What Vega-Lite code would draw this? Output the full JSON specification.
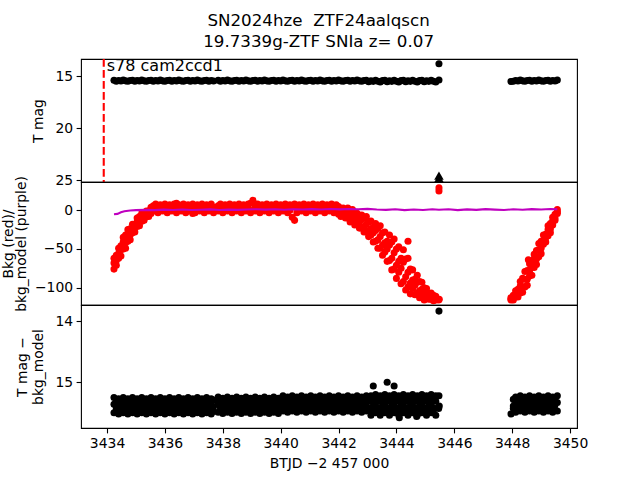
{
"$schema": "https://vega.github.io/schema/vega-lite/v6.json",
"padding": {"left": 0, "top": 13, "right": 5, "bottom": 5},
"background": "white",
"title": {"text": ["SN2024hze\u00a0 ZTF24aalqscn", "19.7339g-ZTF SNIa z= 0.07"], "font": "DejaVu Sans", "fontSize": 16.7, "fontWeight": "normal", "color": "#000", "anchor": "middle", "offset": 6, "lineHeight": 21, "dx": 24},
"config": {
 "view": {"stroke": "#000", "strokeWidth": 1.1},
 "axis": {"domain": false, "grid": false, "tickColor": "#000", "tickSize": 4.9, "tickWidth": 1.1, "labelColor": "#000", "labelFont": "DejaVu Sans", "labelFontSize": 13.9, "labelPadding": 3.5, "labelFlush": false, "labelOverlap": false, "titleColor": "#000", "titleFont": "DejaVu Sans", "titleFontSize": 13.9, "titleFontWeight": "normal", "titlePadding": 9, "titleLineHeight": 16.5, "minExtent": 0}
},
"datasets": {
 "lc": [
  {"t":3434.24,"m":15.38,"b":-62,"g":-68,"c":-76,"d":15.25,"e":15.36,"f":15.50},
  {"t":3434.32,"m":15.47,"b":-58,"g":-65,"c":-71,"d":15.31,"e":15.42,"f":15.46},
  {"t":3434.40,"m":15.41,"b":-49,"g":-56,"c":-62,"d":15.27,"e":15.34,"f":15.52},
  {"t":3434.48,"m":15.45,"b":-46,"g":-51,"c":-59,"d":15.29,"e":15.40,"f":15.48},
  {"t":3434.56,"m":15.37,"b":-35,"g":-41,"c":-50,"d":15.25,"e":15.36,"f":15.50},
  {"t":3434.64,"m":15.44,"b":-32,"g":-42,"c":-49,"d":15.31,"e":15.42,"f":15.46},
  {"t":3434.72,"m":15.48,"b":-25,"g":-32,"c":-40,"d":15.27,"e":15.34,"f":15.52},
  {"t":3434.80,"m":15.40,"b":-24,"g":-32,"c":-38,"d":15.29,"e":15.40,"f":15.48},
  {"t":3434.88,"m":15.38,"b":-18,"g":-24,"c":-29,"d":15.25,"e":15.36,"f":15.50},
  {"t":3434.96,"m":15.47,"b":-18,"g":-22,"c":-28,"d":15.31,"e":15.42,"f":15.46},
  {"t":3435.04,"m":15.41,"b":-10,"g":-15,"c":-21,"d":15.27,"e":15.34,"f":15.52},
  {"t":3435.12,"m":15.45,"b":-8,"g":-15,"c":-20,"d":15.29,"e":15.40,"f":15.48},
  {"t":3435.20,"m":15.37,"b":-4,"g":-9,"c":-14,"d":15.25,"e":15.36,"f":15.50},
  {"t":3435.28,"m":15.44,"b":-3,"g":-9,"c":-13,"d":15.31,"e":15.42,"f":15.46},
  {"t":3435.36,"m":15.48,"b":-1,"g":-4,"c":-8,"d":15.27,"e":15.34,"f":15.52},
  {"t":3435.44,"m":15.40,"b":-1,"g":-4,"c":-8,"d":15.29,"e":15.40,"f":15.48},
  {"t":3435.52,"m":15.38,"b":4,"g":1,"c":-4,"d":15.25,"e":15.36,"f":15.50},
  {"t":3435.60,"m":15.47,"b":6,"c":-1,"d":15.31,"e":15.42,"f":15.46},
  {"t":3435.68,"m":15.41,"b":8,"c":1,"d":15.27,"e":15.34,"f":15.52},
  {"t":3435.76,"m":15.45,"b":4,"c":-3,"d":15.29,"e":15.40,"f":15.48},
  {"t":3435.84,"m":15.37,"b":7,"c":0,"d":15.25,"e":15.36,"f":15.50},
  {"t":3435.92,"m":15.44,"b":6,"c":-1,"d":15.31,"e":15.42,"f":15.46},
  {"t":3436.00,"m":15.48,"b":8,"c":1,"d":15.27,"e":15.34,"f":15.52},
  {"t":3436.08,"m":15.40,"b":4,"c":-3,"d":15.29,"e":15.40,"f":15.48},
  {"t":3436.16,"m":15.38,"b":7,"c":0,"d":15.25,"e":15.36,"f":15.50},
  {"t":3436.24,"m":15.47,"b":6,"c":-1,"d":15.31,"e":15.42,"f":15.46},
  {"t":3436.32,"m":15.41,"b":8,"c":1,"d":15.27,"e":15.34,"f":15.52},
  {"t":3436.40,"m":15.45,"b":9,"c":-3,"d":15.29,"e":15.40,"f":15.48},
  {"t":3436.48,"m":15.37,"b":7,"c":0,"d":15.25,"e":15.36,"f":15.50},
  {"t":3436.56,"m":15.44,"b":6,"c":-1,"d":15.31,"e":15.42,"f":15.46},
  {"t":3436.64,"m":15.48,"b":8,"c":1,"d":15.27,"e":15.34,"f":15.52},
  {"t":3436.72,"m":15.40,"b":4,"c":-3,"d":15.29,"e":15.40,"f":15.48},
  {"t":3436.80,"m":15.38,"b":7,"c":0,"d":15.25,"e":15.36,"f":15.50},
  {"t":3436.88,"m":15.47,"b":6,"c":-1,"d":15.31,"e":15.42,"f":15.46},
  {"t":3436.96,"m":15.41,"b":8,"c":-4,"d":15.27,"e":15.34,"f":15.52},
  {"t":3437.04,"m":15.45,"b":4,"c":-3,"d":15.29,"e":15.40,"f":15.48},
  {"t":3437.12,"m":15.37,"b":7,"c":0,"d":15.25,"e":15.36,"f":15.50},
  {"t":3437.20,"m":15.44,"b":6,"c":-1,"d":15.31,"e":15.42,"f":15.46},
  {"t":3437.28,"m":15.48,"b":8,"c":1,"d":15.27,"e":15.34,"f":15.52},
  {"t":3437.36,"m":15.40,"b":4,"c":-3,"d":15.29,"e":15.40,"f":15.48},
  {"t":3437.44,"m":15.38,"b":7,"c":0,"d":15.25,"e":15.36,"f":15.50},
  {"t":3437.52,"m":15.47,"b":6,"c":-1,"d":15.31,"e":15.42,"f":15.46},
  {"t":3437.60,"m":15.41,"b":8,"c":1,"d":15.27,"e":15.34,"f":15.52},
  {"t":3437.68,"m":15.45,"b":4,"c":-3,"d":15.29,"e":15.40,"f":15.48},
  {"t":3437.84,"m":15.38,"b":6,"c":-1,"d":15.24,"e":15.35,"f":15.49},
  {"t":3437.92,"m":15.47,"b":8,"c":1,"d":15.30,"e":15.41,"f":15.45},
  {"t":3438.00,"m":15.41,"b":4,"c":-3,"d":15.26,"e":15.33,"f":15.51},
  {"t":3438.08,"m":15.45,"b":7,"c":0,"d":15.28,"e":15.39,"f":15.47},
  {"t":3438.16,"m":15.37,"b":6,"c":-1,"d":15.24,"e":15.35,"f":15.49},
  {"t":3438.24,"m":15.44,"b":8,"c":1,"d":15.30,"e":15.41,"f":15.45},
  {"t":3438.32,"m":15.48,"b":4,"c":-3,"d":15.26,"e":15.33,"f":15.51},
  {"t":3438.40,"m":15.40,"b":7,"c":0,"d":15.28,"e":15.39,"f":15.47},
  {"t":3438.48,"m":15.38,"b":6,"c":-1,"d":15.24,"e":15.35,"f":15.49},
  {"t":3438.56,"m":15.47,"b":8,"c":1,"d":15.30,"e":15.41,"f":15.45},
  {"t":3438.64,"m":15.41,"b":4,"c":-3,"d":15.26,"e":15.33,"f":15.51},
  {"t":3438.72,"m":15.45,"b":7,"c":0,"d":15.28,"e":15.39,"f":15.47},
  {"t":3438.80,"m":15.37,"b":6,"c":-1,"d":15.24,"e":15.35,"f":15.49},
  {"t":3438.88,"m":15.44,"b":8,"c":1,"d":15.30,"e":15.41,"f":15.45},
  {"t":3438.96,"m":15.48,"b":9,"c":-3,"d":15.26,"e":15.33,"f":15.51},
  {"t":3439.04,"m":15.40,"b":13,"c":0,"d":15.28,"e":15.39,"f":15.47},
  {"t":3439.12,"m":15.38,"b":6,"c":-1,"d":15.24,"e":15.35,"f":15.49},
  {"t":3439.20,"m":15.47,"b":8,"c":1,"d":15.30,"e":15.41,"f":15.45},
  {"t":3439.28,"m":15.41,"b":4,"c":-3,"d":15.26,"e":15.33,"f":15.51},
  {"t":3439.36,"m":15.45,"b":7,"c":0,"d":15.28,"e":15.39,"f":15.47},
  {"t":3439.44,"m":15.37,"b":6,"c":-1,"d":15.24,"e":15.35,"f":15.49},
  {"t":3439.52,"m":15.44,"b":8,"c":1,"d":15.30,"e":15.41,"f":15.45},
  {"t":3439.60,"m":15.48,"b":4,"c":-3,"d":15.26,"e":15.33,"f":15.51},
  {"t":3439.68,"m":15.40,"b":7,"c":0,"d":15.28,"e":15.39,"f":15.47},
  {"t":3439.76,"m":15.38,"b":6,"c":-1,"d":15.24,"e":15.35,"f":15.49},
  {"t":3439.84,"m":15.47,"b":8,"c":1,"d":15.30,"e":15.41,"f":15.45},
  {"t":3439.92,"m":15.41,"b":4,"c":-3,"d":15.26,"e":15.33,"f":15.51},
  {"t":3440.00,"m":15.45,"b":7,"c":0,"d":15.26,"e":15.37,"f":15.45},
  {"t":3440.08,"m":15.37,"b":6,"c":-1,"d":15.22,"e":15.33,"f":15.47},
  {"t":3440.16,"m":15.44,"b":8,"c":1,"d":15.28,"e":15.39,"f":15.43},
  {"t":3440.24,"m":15.48,"b":4,"c":-3,"d":15.24,"e":15.31,"f":15.49},
  {"t":3440.32,"m":15.40,"b":7,"c":0,"d":15.26,"e":15.37,"f":15.45},
  {"t":3440.40,"m":15.38,"b":6,"c":-9,"d":15.22,"e":15.33,"f":15.47},
  {"t":3440.48,"m":15.47,"b":8,"c":-13,"d":15.28,"e":15.39,"f":15.43},
  {"t":3440.56,"m":15.41,"b":4,"c":-3,"d":15.24,"e":15.31,"f":15.49},
  {"t":3440.64,"m":15.45,"b":7,"c":0,"d":15.26,"e":15.37,"f":15.45},
  {"t":3440.72,"m":15.37,"b":6,"c":-1,"d":15.22,"e":15.33,"f":15.47},
  {"t":3440.80,"m":15.44,"b":8,"c":1,"d":15.28,"e":15.39,"f":15.43},
  {"t":3440.88,"m":15.48,"b":4,"c":-3,"d":15.24,"e":15.31,"f":15.49},
  {"t":3440.96,"m":15.40,"b":7,"c":0,"d":15.26,"e":15.37,"f":15.45},
  {"t":3441.04,"m":15.38,"b":6,"c":-1,"d":15.22,"e":15.33,"f":15.47},
  {"t":3441.12,"m":15.47,"b":8,"c":1,"d":15.28,"e":15.39,"f":15.43},
  {"t":3441.20,"m":15.41,"b":4,"c":-3,"d":15.24,"e":15.31,"f":15.49},
  {"t":3441.28,"m":15.45,"b":7,"c":0,"d":15.26,"e":15.37,"f":15.45},
  {"t":3441.36,"m":15.37,"b":6,"c":-1,"d":15.22,"e":15.33,"f":15.47},
  {"t":3441.44,"m":15.44,"b":8,"c":1,"d":15.28,"e":15.39,"f":15.43},
  {"t":3441.52,"m":15.48,"b":4,"c":-3,"d":15.24,"e":15.31,"f":15.49},
  {"t":3441.60,"m":15.40,"b":7,"c":0,"d":15.26,"e":15.37,"f":15.45},
  {"t":3441.68,"m":15.38,"b":6,"c":-1,"d":15.22,"e":15.33,"f":15.47},
  {"t":3441.76,"m":15.47,"b":8,"c":1,"d":15.28,"e":15.39,"f":15.43},
  {"t":3441.84,"m":15.41,"b":4,"c":-3,"d":15.24,"e":15.31,"f":15.49},
  {"t":3441.92,"m":15.45,"b":7,"c":0,"d":15.26,"e":15.37,"f":15.45},
  {"t":3442.00,"m":15.37,"b":5,"g":0,"c":-5,"d":15.22,"e":15.33,"f":15.47},
  {"t":3442.08,"m":15.44,"b":2,"g":-4,"c":-8,"d":15.28,"e":15.39,"f":15.43},
  {"t":3442.16,"m":15.48,"b":3,"g":-2,"c":-7,"d":15.24,"e":15.31,"f":15.49},
  {"t":3442.24,"m":15.40,"b":-1,"g":-5,"c":-10,"d":15.26,"e":15.37,"f":15.45},
  {"t":3442.32,"m":15.38,"b":3,"g":-2,"c":-10,"d":15.22,"e":15.33,"f":15.47},
  {"t":3442.40,"m":15.47,"b":-1,"g":-9,"c":-15,"d":15.28,"e":15.39,"f":15.43},
  {"t":3442.48,"m":15.41,"b":1,"g":-6,"c":-14,"d":15.24,"e":15.31,"f":15.49},
  {"t":3442.56,"m":15.45,"b":-5,"g":-13,"c":-19,"d":15.26,"e":15.37,"f":15.45},
  {"t":3442.64,"m":15.37,"b":-4,"g":-11,"c":-17,"d":15.22,"e":15.33,"f":15.47},
  {"t":3442.72,"m":15.44,"b":-10,"g":-15,"c":-23,"d":15.28,"e":15.39,"f":15.43},
  {"t":3442.80,"m":15.48,"b":-6,"g":-12,"c":-23,"d":15.24,"e":15.31,"f":15.49},
  {"t":3442.88,"m":15.40,"b":-10,"g":-21,"c":-28,"d":15.26,"e":15.37,"f":15.45},
  {"t":3442.96,"m":15.38,"b":-8,"g":-18,"c":-28,"d":15.22,"e":15.33,"f":15.47},
  {"t":3443.04,"m":15.52,"b":-15,"g":-26,"c":-34,"d":15.27,"e":15.42,"f":15.46},
  {"t":3443.12,"m":15.43,"b":-14,"g":-24,"c":-32,"d":15.22,"e":15.31,"f":15.54},
  {"t":3443.20,"m":15.49,"b":-22,"g":-29,"c":-41,"d":15.25,"e":15.39,"f":15.48},
  {"t":3443.28,"m":15.38,"b":-17,"g":-26,"c":-40,"d":15.20,"e":15.34,"f":15.50},
  {"t":3443.36,"m":15.47,"b":-23,"g":-38,"c":-49,"d":15.27,"e":15.42,"f":15.46},
  {"t":3443.44,"m":15.55,"b":-20,"g":-34,"c":-49,"d":15.22,"e":15.31,"f":15.54},
  {"t":3443.52,"m":15.42,"b":-29,"g":-45,"c":-58,"d":15.25,"e":15.39,"f":15.48},
  {"t":3443.60,"m":15.39,"b":-28,"g":-42,"c":-54,"d":15.20,"e":15.34,"f":15.50},
  {"t":3443.68,"m":15.52,"b":-40,"g":-50,"c":-66,"d":15.27,"e":15.42,"f":15.46},
  {"t":3443.76,"m":15.43,"b":-32,"g":-45,"c":-65,"d":15.22,"e":15.31,"f":15.54},
  {"t":3443.84,"m":15.49,"b":-41,"g":-62,"c":-77,"d":15.25,"e":15.39,"f":15.48},
  {"t":3443.92,"m":15.38,"b":-37,"g":-55,"c":-76,"d":15.20,"e":15.34,"f":15.50},
  {"t":3444.00,"m":15.47,"b":-50,"g":-71,"c":-88,"d":15.27,"e":15.42,"f":15.46},
  {"t":3444.08,"m":15.55,"b":-47,"g":-66,"c":-80,"d":15.22,"e":15.31,"f":15.54},
  {"t":3444.16,"m":15.42,"b":-62,"g":-75,"c":-95,"d":15.25,"e":15.39,"f":15.48},
  {"t":3444.24,"m":15.39,"b":-51,"g":-67,"c":-92,"d":15.20,"e":15.34,"f":15.50},
  {"t":3444.32,"m":15.52,"b":-63,"g":-86,"c":-103,"d":15.27,"e":15.42,"f":15.46},
  {"t":3444.40,"m":15.43,"b":-62,"g":-80,"c":-99,"d":15.22,"e":15.31,"f":15.54},
  {"t":3444.48,"m":15.49,"b":-76,"g":-94,"c":-108,"d":15.25,"e":15.39,"f":15.48},
  {"t":3444.56,"m":15.38,"b":-77,"g":-90,"c":-101,"d":15.20,"e":15.34,"f":15.50},
  {"t":3444.64,"m":15.47,"b":-89,"g":-97,"c":-109,"d":15.27,"e":15.42,"f":15.46},
  {"t":3444.72,"m":15.55,"b":-84,"g":-93,"c":-107,"d":15.22,"e":15.31,"f":15.54},
  {"t":3444.80,"m":15.42,"b":-92,"g":-104,"c":-113,"d":15.25,"e":15.39,"f":15.48},
  {"t":3444.88,"m":15.39,"b":-93,"g":-102,"c":-112,"d":15.20,"e":15.34,"f":15.50},
  {"t":3444.96,"m":15.52,"b":-100,"g":-109,"c":-116,"d":15.27,"e":15.42,"f":15.46},
  {"t":3445.04,"m":15.43,"b":-101,"g":-107,"c":-112,"d":15.22,"e":15.31,"f":15.54},
  {"t":3445.12,"m":15.49,"b":-108,"g":-111,"c":-115,"d":15.25,"e":15.39,"f":15.48},
  {"t":3445.20,"m":15.38,"b":-107,"g":-110,"c":-115,"d":15.20,"e":15.34,"f":15.50},
  {"t":3445.28,"m":15.47,"b":-110,"g":-114,"c":-117,"d":15.27,"e":15.42,"f":15.46},
  {"t":3445.36,"m":15.55,"b":-111,"g":-113,"c":-116,"d":15.22,"e":15.31,"f":15.54},
  {"t":3443.20,"d":15.06},{"t":3443.68,"d":15.00},{"t":3443.92,"d":15.06},{"t":3444.10,"d":15.58},{"t":3444.70,"d":15.56},{"t":3444.40,"b":-40},{"t":3448.56,"b":-64},
  {"t":3445.47,"m":13.8,"b":29,"d":13.83},{"t":3445.47,"m":15.35,"b":25,"d":15.22},{"t":3445.48,"b":-115,"d":15.39},{"t":3445.46,"b":-116,"d":15.43},
  {"t":3447.96,"m":15.50,"b":-113,"g":-115,"c":-116,"d":15.52},
  {"t":3448.04,"m":15.47,"b":-110,"g":-113,"c":-116,"d":15.28,"e":15.39,"f":15.43},
  {"t":3448.12,"m":15.41,"b":-104,"g":-108,"c":-112,"d":15.24,"e":15.31,"f":15.49},
  {"t":3448.20,"m":15.45,"b":-102,"g":-106,"c":-112,"d":15.26,"e":15.37,"f":15.45},
  {"t":3448.28,"m":15.37,"b":-92,"g":-98,"c":-107,"d":15.22,"e":15.33,"f":15.47},
  {"t":3448.36,"m":15.44,"b":-88,"g":-99,"c":-106,"d":15.28,"e":15.39,"f":15.43},
  {"t":3448.44,"m":15.48,"b":-79,"g":-89,"c":-99,"d":15.24,"e":15.31,"f":15.49},
  {"t":3448.52,"m":15.40,"b":-78,"g":-89,"c":-97,"d":15.26,"e":15.37,"f":15.45},
  {"t":3448.60,"m":15.38,"b":-69,"g":-78,"c":-85,"d":15.22,"e":15.33,"f":15.47},
  {"t":3448.68,"m":15.47,"b":-68,"g":-74,"c":-84,"d":15.28,"e":15.39,"f":15.43},
  {"t":3448.76,"m":15.41,"b":-57,"g":-63,"c":-74,"d":15.24,"e":15.31,"f":15.49},
  {"t":3448.84,"m":15.45,"b":-52,"g":-63,"c":-70,"d":15.26,"e":15.37,"f":15.45},
  {"t":3448.92,"m":15.37,"b":-43,"g":-51,"c":-60,"d":15.22,"e":15.33,"f":15.47},
  {"t":3449.00,"m":15.44,"b":-40,"g":-49,"c":-56,"d":15.28,"e":15.39,"f":15.43},
  {"t":3449.08,"m":15.48,"b":-32,"g":-39,"c":-44,"d":15.24,"e":15.31,"f":15.49},
  {"t":3449.16,"m":15.40,"b":-31,"g":-35,"c":-41,"d":15.26,"e":15.37,"f":15.45},
  {"t":3449.24,"m":15.38,"b":-20,"g":-25,"c":-33,"d":15.22,"e":15.33,"f":15.47},
  {"t":3449.32,"m":15.47,"b":-17,"g":-24,"c":-29,"d":15.28,"e":15.39,"f":15.43},
  {"t":3449.40,"m":15.41,"b":-9,"g":-14,"c":-19,"d":15.24,"e":15.31,"f":15.49},
  {"t":3449.48,"m":15.45,"b":-5,"g":-10,"c":-13,"d":15.26,"e":15.37,"f":15.45},
  {"t":3449.56,"m":15.37,"b":1,"g":-2,"c":-4,"d":15.22,"e":15.33,"f":15.47}
 ],
 "model": [
  {"t":3434.24,"bm":-5},{"t":3434.36,"bm":-4.6},{"t":3434.48,"bm":-2.5},{"t":3434.60,"bm":-1.2},{"t":3434.80,"bm":-0.3},{"t":3435.00,"bm":0.2},{"t":3435.32,"bm":0.6},{"t":3435.64,"bm":0.3},{"t":3435.96,"bm":0.9},{"t":3436.28,"bm":0.5},{"t":3436.60,"bm":1.0},{"t":3436.92,"bm":0.4},{"t":3437.24,"bm":0.8},{"t":3437.56,"bm":1.2},{"t":3437.88,"bm":0.5},{"t":3438.20,"bm":0.9},{"t":3438.52,"bm":0.6},{"t":3438.84,"bm":1.1},{"t":3439.16,"bm":1.4},{"t":3439.48,"bm":0.9},{"t":3439.80,"bm":1.3},{"t":3440.12,"bm":0.8},{"t":3440.44,"bm":1.4},{"t":3440.76,"bm":1.0},{"t":3441.08,"bm":1.5},{"t":3441.40,"bm":1.1},{"t":3441.72,"bm":1.6},{"t":3442.04,"bm":1.2},{"t":3442.36,"bm":1.7},{"t":3442.68,"bm":1.3},{"t":3443.00,"bm":1.8},{"t":3443.32,"bm":1.0},{"t":3443.64,"bm":0.6},{"t":3443.96,"bm":1.4},{"t":3444.28,"bm":0.2},{"t":3444.60,"bm":1.1},{"t":3444.92,"bm":0.5},{"t":3445.24,"bm":1.3},{"t":3445.47,"bm":0.8},{"t":3445.80,"bm":1.4},{"t":3446.12,"bm":0.3},{"t":3446.44,"bm":1.2},{"t":3446.76,"bm":0.6},{"t":3447.08,"bm":1.5},{"t":3447.40,"bm":0.9},{"t":3447.72,"bm":0.4},{"t":3448.04,"bm":1.3},{"t":3448.36,"bm":0.7},{"t":3448.68,"bm":1.5},{"t":3449.00,"bm":1.0},{"t":3449.32,"bm":1.6},{"t":3449.56,"bm":1.4}
 ],
 "lim": [{"t":3445.47,"m":24.55},{"t":3445.47,"m":24.8}],
 "marker": [{"t":3433.886,"ty":14.45,"label":"s78 cam2ccd1"}]
},
"spacing": 0,
"bounds": "flush",
"resolve": {"scale": {"x": "independent", "y": "independent"}},
"vconcat": [
 {
  "width": 496, "height": 123,
  "layer": [
   {"data": {"name": "lc"}, "mark": {"type": "point", "filled": true, "shape": "circle", "size": 50, "color": "#000", "opacity": 1, "clip": true},
    "encoding": {
     "x": {"field": "t", "type": "quantitative", "scale": {"domain": [3433.10, 3450.24], "nice": false, "zero": false}, "axis": null},
     "y": {"field": "m", "type": "quantitative", "scale": {"domain": [13.34, 25.16], "reverse": true, "nice": false, "zero": false}, "axis": {"values": [15, 20, 25], "format": "d", "title": "T mag"}}
    }},
   {"data": {"name": "lim"}, "mark": {"type": "point", "filled": true, "shape": "triangle-up", "size": 90, "color": "#000", "opacity": 1},
    "encoding": {"x": {"field": "t", "type": "quantitative"}, "y": {"field": "m", "type": "quantitative"}}},
   {"data": {"name": "marker"}, "mark": {"type": "rule", "color": "#ff0000", "strokeDash": [7.7, 3.3], "strokeWidth": 2.1},
    "encoding": {"x": {"field": "t", "type": "quantitative"}}},
   {"data": {"name": "marker"}, "mark": {"type": "text", "align": "left", "baseline": "alphabetic", "dx": 3, "font": "DejaVu Sans", "fontSize": 16, "color": "#000"},
    "encoding": {"x": {"field": "t", "type": "quantitative"}, "y": {"field": "ty", "type": "quantitative"}, "text": {"field": "label"}}}
  ]
 },
 {
  "width": 496, "height": 123,
  "layer": [
   {"data": {"name": "lc"}, "mark": {"type": "point", "filled": true, "shape": "circle", "size": 50, "color": "#ff0000", "opacity": 1, "clip": true},
    "encoding": {
     "x": {"field": "t", "type": "quantitative", "scale": {"domain": [3433.10, 3450.24], "nice": false, "zero": false}, "axis": null},
     "y": {"field": "b", "type": "quantitative", "scale": {"domain": [-122.4, 36.6], "nice": false, "zero": false}, "axis": {"values": [-100, -50, 0], "format": "d", "title": ["Bkg (red)/", "bkg_model (purple)"], "titleLineHeight": 13, "titlePadding": 6}}
    }},
   {"data": {"name": "lc"}, "mark": {"type": "point", "filled": true, "shape": "circle", "size": 50, "color": "#ff0000", "opacity": 1, "clip": true},
    "encoding": {"x": {"field": "t", "type": "quantitative"}, "y": {"field": "c", "type": "quantitative"}}},
   {"data": {"name": "lc"}, "mark": {"type": "point", "filled": true, "shape": "circle", "size": 50, "color": "#ff0000", "opacity": 1, "clip": true},
    "encoding": {"x": {"field": "t", "type": "quantitative"}, "y": {"field": "g", "type": "quantitative"}}},
   {"data": {"name": "model"}, "mark": {"type": "line", "color": "#bf00bf", "strokeWidth": 2.1, "clip": true},
    "encoding": {"x": {"field": "t", "type": "quantitative"}, "y": {"field": "bm", "type": "quantitative"}}}
  ]
 },
 {
  "width": 496, "height": 123,
  "layer": [
   {"data": {"name": "lc"}, "mark": {"type": "point", "filled": true, "shape": "circle", "size": 50, "color": "#000", "opacity": 1, "clip": true},
    "encoding": {
     "x": {"field": "t", "type": "quantitative", "scale": {"domain": [3433.10, 3450.24], "nice": false, "zero": false}, "axis": {"values": [3434, 3436, 3438, 3440, 3442, 3444, 3446, 3448, 3450], "format": "d", "title": "BTJD −2 457 000", "titlePadding": 6}},
     "y": {"field": "d", "type": "quantitative", "scale": {"domain": [13.73, 15.75], "reverse": true, "nice": false, "zero": false}, "axis": {"values": [14, 15], "format": "d", "title": ["T mag −", "bkg_model"]}}
    }},
   {"data": {"name": "lc"}, "mark": {"type": "point", "filled": true, "shape": "circle", "size": 50, "color": "#000", "opacity": 1, "clip": true},
    "encoding": {"x": {"field": "t", "type": "quantitative"}, "y": {"field": "e", "type": "quantitative"}}},
   {"data": {"name": "lc"}, "mark": {"type": "point", "filled": true, "shape": "circle", "size": 50, "color": "#000", "opacity": 1, "clip": true},
    "encoding": {"x": {"field": "t", "type": "quantitative"}, "y": {"field": "f", "type": "quantitative"}}}
  ]
 }
]
}
